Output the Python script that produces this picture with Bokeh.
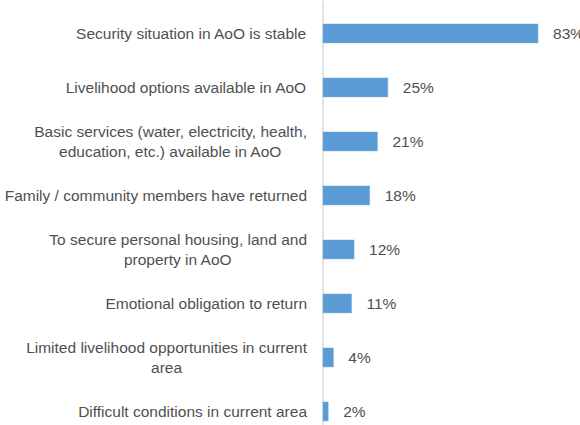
from bokeh.plotting import figure
from bokeh.models import ColumnDataSource, Range1d, Span
from bokeh.core.properties import value
from bokeh.embed import file_html
from bokeh.resources import INLINE

categories = [
    "Security situation in AoO is stable",
    "Livelihood options available in AoO",
    "Basic services (water, electricity, health,\neducation, etc.) available in AoO",
    "Family / community members have returned",
    "To secure personal housing, land and\nproperty in AoO",
    "Emotional obligation to return",
    "Limited livelihood opportunities in current\narea",
    "Difficult conditions in current area",
]
percentages = [83, 25, 21, 18, 12, 11, 4, 2]
value_labels = [f"{v}%" for v in percentages]

positions = list(range(len(categories)))
source = ColumnDataSource(dict(
    y=positions,
    cat=categories,
    pct=percentages,
    lbl=value_labels,
    zero=[0] * len(categories),
))

FONT = value("Liberation Sans")
TEXT_COLOR = "#505050"

p = figure(
    width=580, height=425,
    x_range=Range1d(-124.5, 99.4),
    y_range=Range1d(7.26, -0.61),
    x_axis_location=None, y_axis_location=None,
    toolbar_location=None, output_backend="svg",
    min_border=0, outline_line_color=None,
    background_fill_color="white", border_fill_color="white",
)
p.grid.visible = False

axis_line = Span(location=0, dimension="height", line_color="#D9D9D9",
                 line_width=1.5, level="underlay")
p.add_layout(axis_line)

p.hbar(y="y", left="zero", right="pct", height=0.35, source=source,
       fill_color="#5B9BD5", line_color="#6FA8DC", line_width=0.5)

p.text(x="zero", y="y", text="cat", source=source,
       x_offset=-16, anchor="center_right", text_align="center",
       text_baseline="middle", text_font=FONT, text_font_size="15.5px",
       text_color=TEXT_COLOR, text_line_height=1.14)

p.text(x="pct", y="y", text="lbl", source=source,
       x_offset=15, text_align="left", text_baseline="middle",
       text_font=FONT, text_font_size="15.5px", text_color=TEXT_COLOR)

open("out.html", "w").write(file_html(p, INLINE))
